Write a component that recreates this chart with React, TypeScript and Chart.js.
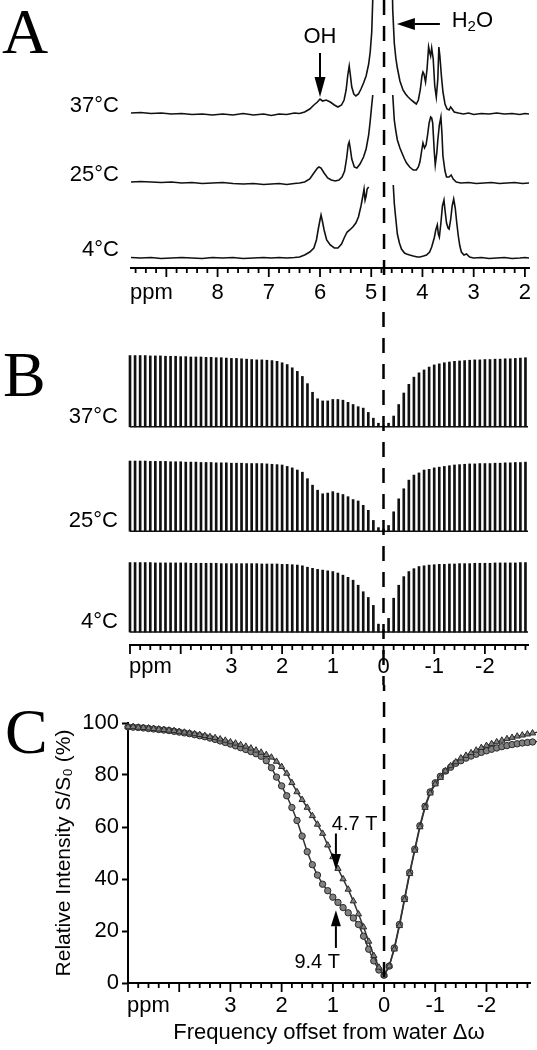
import React, { useEffect, useRef } from 'react';
import { Chart, registerables } from 'chart.js';

Chart.register(...registerables);

const SANS = '"Liberation Sans", Arial, Helvetica, sans-serif';
const SERIF = '"Liberation Serif", "Times New Roman", serif';
Chart.defaults.font.family = SANS;
Chart.defaults.color = '#000';

// ---------------- Panel A : 1H spectra (ppm, intensity) ----------------
const tempLabels = ['37°C', '25°C', '4°C'];
const specOffsets = [144, 75, 0];
const xTickLabelsA = [8, 7, 6, 5, 4, 3, 2];

const spec37: [number, number | null][] = [
  [9.69, 1], [9.5, 1.5], [9.3, 0.5], [9.1, 1], [8.9, 0], [8.7, 0.5], [8.5, -0.5], [8.3, 0], [8.1, -1], [7.9, 0],
  [7.7, -1], [7.5, 0.5], [7.3, -1], [7.1, 0], [6.95, -1.5], [6.8, 0], [6.65, -0.5], [6.5, 1], [6.4, 0.5], [6.3, 2],
  [6.2, 5], [6.12, 9], [6.05, 12], [6.0, 15], [5.95, 13], [5.88, 14], [5.8, 12], [5.72, 9], [5.65, 7], [5.58, 9],
  [5.53, 14], [5.49, 24], [5.46, 38], [5.43, 48], [5.41, 40], [5.38, 27], [5.34, 20], [5.3, 18], [5.25, 20], [5.2, 25],
  [5.15, 31], [5.1, 38], [5.05, 50], [5.02, 62], [4.99, 82], [4.97, 115], [4.95, 160], [4.75, null],
  [4.6, 160], [4.58, 104], [4.55, 71], [4.52, 56], [4.49, 46], [4.44, 33], [4.38, 24], [4.33, 20], [4.28, 17], [4.22, 14],
  [4.17, 12], [4.12, 10], [4.08, 14], [4.04, 25], [4.01, 38], [3.99, 42], [3.97, 40], [3.94, 32], [3.91, 45], [3.88, 67],
  [3.86, 62], [3.84, 58], [3.82, 66], [3.79, 55], [3.76, 28], [3.73, 17], [3.7, 35], [3.68, 67], [3.66, 58], [3.63, 38],
  [3.6, 22], [3.56, 10], [3.52, 5], [3.48, 4], [3.45, 7], [3.42, 5], [3.38, 2], [3.3, 1], [3.2, 0], [3.1, 1],
  [3.0, -0.5], [2.85, 0.5], [2.7, 0], [2.55, 1], [2.4, 0], [2.25, 0.5], [2.1, -0.5], [2.0, 0.5], [1.92, 0],
];

const spec25: [number, number | null][] = [
  [9.69, 1], [9.5, 1.5], [9.3, 1], [9.1, 0.5], [8.9, 1], [8.7, 0], [8.5, 0.5], [8.3, -0.5], [8.1, 0], [7.9, 0.5],
  [7.7, -0.5], [7.5, -1], [7.3, -0.5], [7.1, -1.5], [6.95, -1], [6.8, -0.5], [6.65, -1.5], [6.5, -0.5], [6.4, 0], [6.3, 1],
  [6.2, 4], [6.12, 10], [6.05, 15], [6.02, 16], [5.98, 15], [5.92, 10], [5.85, 5], [5.78, 3], [5.7, 2], [5.63, 3],
  [5.57, 6], [5.52, 12], [5.48, 25], [5.45, 38], [5.43, 41], [5.41, 35], [5.38, 24], [5.33, 16], [5.28, 15], [5.22, 19],
  [5.15, 26], [5.1, 34], [5.05, 48], [5.02, 62], [4.99, 78], [4.97, 88], [4.75, null],
  [4.58, 88], [4.55, 63], [4.52, 52], [4.49, 43], [4.44, 35], [4.4, 30], [4.35, 24], [4.31, 20], [4.25, 16], [4.18, 13],
  [4.12, 13], [4.08, 16], [4.05, 21], [4.01, 34], [3.99, 40], [3.96, 35], [3.93, 38], [3.9, 48], [3.87, 60], [3.84, 66],
  [3.82, 65], [3.8, 60], [3.77, 32], [3.75, 18], [3.72, 30], [3.7, 43], [3.67, 58], [3.64, 66], [3.62, 50], [3.6, 27],
  [3.56, 12], [3.53, 6], [3.48, 6], [3.44, 8], [3.4, 4], [3.34, 1], [3.25, 0], [3.1, 0.5], [2.95, -0.5], [2.8, 0],
  [2.65, 0.5], [2.5, -0.5], [2.35, 0], [2.2, 0.5], [2.05, -0.5], [1.92, 0],
];

const spec4: [number, number | null][] = [
  [9.69, 0.5], [9.5, 0], [9.3, 0.5], [9.1, -0.5], [8.9, 0], [8.7, 0.5], [8.5, 0], [8.3, -0.5], [8.1, 0.5], [7.9, 0],
  [7.7, 0.5], [7.5, -0.5], [7.3, 0], [7.1, 0.5], [6.95, 0], [6.8, 0.5], [6.65, 0], [6.5, 0.5], [6.4, 1], [6.3, 3],
  [6.2, 6], [6.12, 10], [6.07, 18], [6.03, 30], [6.0, 38], [5.98, 43], [5.95, 36], [5.92, 28], [5.87, 18], [5.8, 13],
  [5.72, 10], [5.65, 10], [5.58, 14], [5.52, 21], [5.47, 26], [5.42, 28], [5.36, 31], [5.3, 35], [5.25, 41], [5.2, 52],
  [5.16, 63], [5.14, 69], [5.12, 58], [5.1, 62], [5.08, 69], [5.05, 71], [4.75, null],
  [4.57, 73], [4.55, 55], [4.53, 44], [4.49, 24], [4.45, 15], [4.41, 9], [4.35, 5], [4.31, 4], [4.25, 3], [4.18, 2],
  [4.1, 1], [4.05, 1], [3.98, 2], [3.92, 3], [3.86, 6], [3.82, 11], [3.77, 20], [3.74, 28], [3.71, 33], [3.69, 24],
  [3.67, 21], [3.64, 35], [3.61, 52], [3.58, 58], [3.56, 48], [3.53, 35], [3.5, 30], [3.48, 29], [3.45, 38], [3.42, 52],
  [3.39, 59], [3.36, 50], [3.33, 35], [3.3, 22], [3.27, 12], [3.24, 6], [3.19, 3], [3.14, 4], [3.08, 1], [3.0, 0],
  [2.85, 0.5], [2.7, -0.5], [2.55, 0], [2.4, 0.5], [2.25, -0.5], [2.1, 0], [2.0, 0.5], [1.92, 0],
];

// ---------------- Panels B & C : Z-spectra ----------------
const zOffsets = [
  5.0, 4.9, 4.8, 4.7, 4.6, 4.5, 4.4, 4.3, 4.2, 4.1, 4.0, 3.9, 3.8, 3.7, 3.6, 3.5, 3.4, 3.3, 3.2, 3.1,
  3.0, 2.9, 2.8, 2.7, 2.6, 2.5, 2.4, 2.3, 2.2, 2.1, 2.0, 1.9, 1.8, 1.7, 1.6, 1.5, 1.4, 1.3, 1.2, 1.1,
  1.0, 0.9, 0.8, 0.7, 0.6, 0.5, 0.4, 0.3, 0.2, 0.1, 0.0, -0.1, -0.2, -0.3, -0.4, -0.5, -0.6, -0.7, -0.8, -0.9,
  -1.0, -1.1, -1.2, -1.3, -1.4, -1.5, -1.6, -1.7, -1.8, -1.9, -2.0, -2.1, -2.2, -2.3, -2.4, -2.5, -2.6, -2.7, -2.8,
  -2.9, -3.0,
];
const xTickLabelsB = [3, 2, 1, 0, -1, -2];
const rowOffsetsB = [285, 140, 0];

const zB37 = [
  99, 99, 99, 99, 98.5, 98.5, 98.5, 98, 98, 98, 97.5, 97.5, 97, 97, 97, 96.5, 96.5, 96, 96, 95.5,
  95, 95, 94.5, 94, 93.5, 93, 93, 92.5, 92, 91, 89, 86.5, 82, 77, 70, 60, 48, 39, 36, 36,
  38, 38, 37, 34, 31, 28, 26, 20, 12, 5, 1.5, 5, 15, 31, 47, 59, 69, 75, 79, 83,
  86, 87.5, 89, 90, 91, 91.5, 92, 92.5, 93, 93, 93.5, 93.5, 94, 94, 94.5, 94.5, 95, 95.5, 96,
];
const zB25 = [
  97.5, 97.5, 97.5, 97.5, 97, 97, 97, 97, 96.5, 96.5, 96.5, 96, 96, 96, 95.5, 95.5, 95.5, 95, 95, 95,
  94.5, 94.5, 94.5, 94, 94, 94, 94, 93.5, 93, 92.5, 92, 90, 88, 85, 82, 73, 64, 57, 52, 53,
  55, 53, 51, 48, 44, 42, 36, 29, 15, 5, 3, 8, 27, 45, 59, 71, 78, 81, 85, 86,
  88, 89, 90, 91, 92, 92.5, 93, 93.5, 93.5, 94, 94, 94, 94.5, 94.5, 95, 95, 95.5, 95.5, 96,
];
const zB4 = [
  96.5, 96.5, 96.5, 96.5, 96.5, 96, 96, 96, 96, 96, 96, 96, 95.5, 95.5, 95.5, 95.5, 95.5, 95.5, 95, 95,
  95, 95, 95, 95, 95, 95, 94.5, 94.5, 94.5, 94.5, 94, 94, 93.5, 93, 92, 90, 88.5, 87, 86, 85,
  84, 82, 79, 76, 72, 65, 56, 48, 37, 11, 3, 19, 47, 65, 77, 84, 88, 91, 92, 93,
  93.5, 94, 94, 94.5, 94.5, 95, 95, 95, 95.5, 95.5, 95.5, 95.5, 96, 96, 96, 96, 96, 96.5, 96.5,
];

const fieldLabels = ['4.7 T', '9.4 T'];
const zC47 = [
  98.5, 98.5, 98.3, 98.2, 98.0, 97.8, 97.6, 97.4, 97.2, 97.0,
  96.7, 96.4, 96.1, 95.8, 95.5, 95.1, 94.7, 94.3, 93.8, 93.3,
  92.7, 92.2, 91.6, 91.0, 90.3, 89.5, 88.7, 87.8, 86.8, 85.2,
  83.2, 80.6, 77.0, 73.5, 70.5, 67.5, 64.3, 61.0, 57.5, 53.0,
  48.5, 44.0, 40.0, 36.0, 31.5, 26.5, 21.5, 16.0, 10.5, 6.0,
  3.0,
  6.5, 13, 22, 32, 42, 51, 60, 67.5, 73, 76.5,
  79, 81.5, 83.5, 85, 86.5, 87.5, 88.5, 89.5, 90.5, 91.3,
  92, 92.7, 93.3, 93.9, 94.4, 94.9, 95.3, 95.7, 96.1, 96.5,
];
const zC94 = [
  98.5, 98.4, 98.3, 98.1, 97.9, 97.7, 97.5, 97.3, 97.1, 96.8,
  96.5, 96.2, 95.9, 95.5, 95.1, 94.7, 94.2, 93.7, 93.1, 92.5,
  91.9, 91.2, 90.5, 89.8, 89.0, 88.2, 87.2, 85.5, 82.8, 79.2,
  75.8, 72.0, 67.5, 62.5, 56.5, 50.5, 45.5, 41.5, 38.0, 35.5,
  33.0, 31.0, 29.0, 27.0, 25.0, 22.5, 18.0, 13.0, 8.5, 5.0,
  3.0,
  6.5, 13.5, 22.5, 32.5, 42.5, 51.5, 60.5, 68.0, 73.5, 77.0,
  79.5, 81.5, 83.0, 84.5, 85.5, 86.5, 87.3, 88.0, 88.7, 89.3,
  89.9, 90.4, 90.9, 91.3, 91.7, 92.0, 92.3, 92.5, 92.7, 92.9,
];
const yTicksC = [0, 20, 40, 60, 80, 100];

// annotation anchors (data units)
const annotA = { ohPpm: 6.0, ohText: 221, ohTail: 205, ohTip: 161, h2oY: 234, h2oTail: 3.66, h2oTip: 4.5, h2oTextPpm: 3.43 };
const annotC = { arrowPpm: 0.94, t47Text: [1.02, 61], t47Tail: 57.5, t47Tip: 43.5, t94Text: [0.86, 8], t94Tail: 13.5, t94Tip: 28 };

// ---------------- helpers ----------------
function arrow(ctx: CanvasRenderingContext2D, x1: number, y1: number, x2: number, y2: number, headLen: number, headW: number) {
  const a = Math.atan2(y2 - y1, x2 - x1);
  const bx = x2 - headLen * Math.cos(a);
  const by = y2 - headLen * Math.sin(a);
  ctx.beginPath();
  ctx.moveTo(x1, y1);
  ctx.lineTo(bx, by);
  ctx.stroke();
  ctx.beginPath();
  ctx.moveTo(x2, y2);
  ctx.lineTo(bx + (headW / 2) * Math.sin(a), by - (headW / 2) * Math.cos(a));
  ctx.lineTo(bx - (headW / 2) * Math.sin(a), by + (headW / 2) * Math.cos(a));
  ctx.closePath();
  ctx.fill();
}

function xScale(min: number, max: number, height: number, extra: any = {}) {
  return {
    type: 'linear',
    reverse: true,
    min,
    max,
    offset: false,
    afterFit: (s: any) => { s.height = height; },
    grid: { display: false, drawTicks: false },
    border: { display: true, color: '#000', width: 2 },
    ticks: { display: false, stepSize: 1, includeBounds: false },
    ...extra,
  };
}

function panelPlugin(p: any) {
  return {
    id: 'panel' + p.letter,
    beforeDatasetsDraw(chart: any) {
      if (!p.baselines) return;
      const { ctx, chartArea: ca } = chart;
      const ys = chart.scales.y;
      ctx.save();
      ctx.strokeStyle = '#111';
      ctx.lineWidth = 1.5;
      p.baselines.forEach((b: number) => {
        const y = ys.getPixelForValue(b);
        ctx.beginPath();
        ctx.moveTo(ca.left, y);
        ctx.lineTo(ca.right, y);
        ctx.stroke();
      });
      ctx.restore();
    },
    afterDraw(chart: any) {
      const { ctx, chartArea: ca } = chart;
      const xs = chart.scales.x;
      const ys = chart.scales.y;
      ctx.save();
      ctx.fillStyle = '#000';
      ctx.strokeStyle = '#000';
      // minor / major ticks of the ppm axis
      ctx.lineWidth = 1.8;
      const kMin = Math.ceil(Math.min(xs.min, xs.max) * 5 - 1e-6);
      const kMax = Math.floor(Math.max(xs.min, xs.max) * 5 + 1e-6);
      for (let k = kMin; k <= kMax; k++) {
        const px = xs.getPixelForValue(k / 5);
        const len = k % 5 === 0 ? 9 : 5;
        ctx.beginPath();
        ctx.moveTo(px, ca.bottom);
        ctx.lineTo(px, ca.bottom + len);
        ctx.stroke();
      }
      // tick labels
      ctx.font = `22px ${SANS}`;
      ctx.textBaseline = 'middle';
      ctx.textAlign = 'center';
      const ly = ca.bottom + p.labelDy;
      p.tickLabels.forEach((v: number) => {
        ctx.fillText(String(v), xs.getPixelForValue(v), ly);
      });
      ctx.textAlign = 'left';
      ctx.fillText('ppm', ca.left - 1, ly);
      // row labels
      if (p.rows) {
        ctx.textAlign = 'right';
        p.rows.forEach((r: any) => {
          ctx.fillText(r.text, ca.left - 12, ys.getPixelForValue(r.value) + p.rowDy);
        });
      }
      // panel letter
      ctx.font = `64px ${SERIF}`;
      ctx.textAlign = 'left';
      ctx.textBaseline = 'alphabetic';
      ctx.fillText(p.letter, p.letterX, p.letterBase);
      // extra annotations
      if (p.extra) p.extra(chart, ctx, xs, ys, ca);
      // dashed water line
      const wx = xs.getPixelForValue(p.waterPpm);
      ctx.setLineDash([15, 11]);
      ctx.lineDashOffset = p.canvasTop % 26;
      ctx.lineWidth = 2.5;
      ctx.strokeStyle = '#000';
      ctx.beginPath();
      ctx.moveTo(wx, 0);
      ctx.lineTo(wx, p.dashToAxis ? ca.bottom : chart.height);
      ctx.stroke();
      ctx.setLineDash([]);
      ctx.restore();
    },
  };
}

// ---------------- chart configs ----------------
function buildA() {
  const specs = [spec37, spec25, spec4];
  const datasets = specs.map((s, i) => ({
    type: 'line',
    label: tempLabels[i],
    data: s.map(([x, v]) => ({ x, y: v === null ? null : v + specOffsets[i] })),
    borderColor: '#111',
    borderWidth: 1.6,
    pointRadius: 0,
    tension: 0,
    spanGaps: false,
  }));
  return {
    type: 'line',
    data: { datasets },
    options: {
      animation: false,
      responsive: false,
      events: [],
      layout: { padding: { left: 131, right: 8, top: 0, bottom: 0 } },
      plugins: { legend: { display: false }, tooltip: { enabled: false } },
      scales: {
        x: xScale(1.92, 9.69, 42),
        y: { display: false, min: -10, max: 258 },
      },
    },
    plugins: [
      panelPlugin({
        letter: 'A', letterX: 2, letterBase: 53, canvasTop: 0, waterPpm: 4.75, dashToAxis: false,
        tickLabels: xTickLabelsA, labelDy: 25,
        rows: tempLabels.map((t, i) => ({ text: t, value: specOffsets[i] })), rowDy: -8,
        extra: (chart: any, ctx: CanvasRenderingContext2D, xs: any, ys: any) => {
          ctx.lineWidth = 2;
          ctx.font = `22px ${SANS}`;
          ctx.textAlign = 'center';
          ctx.textBaseline = 'middle';
          const ox = xs.getPixelForValue(annotA.ohPpm);
          ctx.fillText('OH', ox, ys.getPixelForValue(annotA.ohText));
          arrow(ctx, ox, ys.getPixelForValue(annotA.ohTail), ox, ys.getPixelForValue(annotA.ohTip), 20, 11);
          const hy = ys.getPixelForValue(annotA.h2oY);
          arrow(ctx, xs.getPixelForValue(annotA.h2oTail), hy, xs.getPixelForValue(annotA.h2oTip), hy, 18, 12);
          let tx = xs.getPixelForValue(annotA.h2oTextPpm);
          const ty = hy - 3;
          ctx.textAlign = 'left';
          ctx.fillText('H', tx, ty);
          tx += ctx.measureText('H').width;
          ctx.font = `15px ${SANS}`;
          ctx.fillText('2', tx, ty + 6);
          tx += ctx.measureText('2').width;
          ctx.font = `22px ${SANS}`;
          ctx.fillText('O', tx, ty);
        },
      }),
    ],
  };
}

function buildB() {
  const rows = [zB37, zB25, zB4];
  const datasets = rows.map((vals, i) => ({
    type: 'bar',
    label: tempLabels[i],
    data: vals.map((v, j) => ({ x: zOffsets[j], y: [rowOffsetsB[i], rowOffsetsB[i] + v] })),
    backgroundColor: '#111',
    borderWidth: 0,
    barThickness: 2,
    grouped: false,
    clip: false,
  }));
  return {
    type: 'bar',
    data: { datasets },
    options: {
      animation: false,
      responsive: false,
      events: [],
      layout: { padding: { left: 130, right: 9, top: 30, bottom: 0 } },
      plugins: { legend: { display: false }, tooltip: { enabled: false } },
      scales: {
        x: xScale(-2.85, 5.0, 40),
        y: { display: false, min: -18, max: 405.6 },
      },
    },
    plugins: [
      panelPlugin({
        letter: 'B', letterX: 3, letterBase: 86, canvasTop: 310, waterPpm: 0, dashToAxis: false,
        tickLabels: xTickLabelsB, labelDy: 22,
        rows: tempLabels.map((t, i) => ({ text: t, value: rowOffsetsB[i] })), rowDy: -10,
        baselines: rowOffsetsB,
      }),
    ],
  };
}

function buildC() {
  const mk = (vals: number[], i: number, style: string, r: number) => ({
    type: 'line',
    label: fieldLabels[i],
    data: vals.map((v, j) => ({ x: zOffsets[j], y: v })),
    borderColor: '#333',
    borderWidth: 1.5,
    pointStyle: style,
    pointRadius: r,
    pointBackgroundColor: '#808080',
    pointBorderColor: '#2a2a2a',
    pointBorderWidth: 1,
    tension: 0,
    clip: false,
  });
  return {
    type: 'line',
    data: { datasets: [mk(zC47, 0, 'triangle', 3.6), mk(zC94, 1, 'circle', 3.2)] },
    options: {
      animation: false,
      responsive: false,
      events: [],
      layout: { padding: { left: 0, right: 7, top: 38, bottom: 0 } },
      plugins: { legend: { display: false }, tooltip: { enabled: false } },
      scales: {
        x: xScale(-2.85, 5.0, 67, {
          title: { display: true, text: 'Frequency offset from water Δω', font: { size: 22, family: SANS }, color: '#000', padding: { top: 0, bottom: 4 } },
        }),
        y: {
          type: 'linear',
          min: 0,
          max: 100,
          afterFit: (s: any) => { s.width = 128; },
          grid: { display: true, drawOnChartArea: false, drawTicks: true, tickLength: 6, tickWidth: 2, tickColor: '#000', color: '#000' },
          border: { display: true, color: '#000', width: 2 },
          ticks: { stepSize: 20, padding: 3, font: { size: 22, family: SANS }, color: '#000', callback: (v: any) => (yTicksC.indexOf(Number(v)) >= 0 ? String(v) : '') },
          title: { display: true, text: 'Relative Intensity S/S₀ (%)', font: { size: 21, family: SANS }, color: '#000', padding: { top: 52, bottom: 0 } },
        },
      },
    },
    plugins: [
      panelPlugin({
        letter: 'C', letterX: 5, letterBase: 68, canvasTop: 685, waterPpm: 0, dashToAxis: true,
        tickLabels: xTickLabelsB, labelDy: 23,
        extra: (chart: any, ctx: CanvasRenderingContext2D, xs: any, ys: any) => {
          ctx.lineWidth = 2;
          ctx.font = `20px ${SANS}`;
          ctx.textBaseline = 'middle';
          const ax = xs.getPixelForValue(annotC.arrowPpm);
          ctx.textAlign = 'left';
          ctx.fillText(fieldLabels[0], xs.getPixelForValue(annotC.t47Text[0]), ys.getPixelForValue(annotC.t47Text[1]));
          arrow(ctx, ax, ys.getPixelForValue(annotC.t47Tail), ax, ys.getPixelForValue(annotC.t47Tip), 16, 10);
          ctx.textAlign = 'right';
          ctx.fillText(fieldLabels[1], xs.getPixelForValue(annotC.t94Text[0]), ys.getPixelForValue(annotC.t94Text[1]));
          arrow(ctx, ax, ys.getPixelForValue(annotC.t94Tail), ax, ys.getPixelForValue(annotC.t94Tip), 16, 10);
        },
      }),
    ],
  };
}

function ChartCanvas({ top, height, build }: { top: number; height: number; build: () => any }) {
  const ref = useRef<HTMLCanvasElement | null>(null);
  useEffect(() => {
    const chart = new Chart(ref.current as HTMLCanvasElement, build());
    return () => chart.destroy();
  }, []);
  return (
    <canvas
      ref={ref}
      width={537}
      height={height}
      style={{ position: 'absolute', left: 0, top, width: 537, height, display: 'block' }}
    />
  );
}

export default function App() {
  useEffect(() => {
    document.body.style.margin = '0';
    document.documentElement.style.overflow = 'hidden';
  }, []);
  return (
    <div style={{ position: 'relative', width: 537, height: 1050, background: '#fff', overflow: 'hidden' }}>
      <ChartCanvas top={0} height={310} build={buildA} />
      <ChartCanvas top={310} height={375} build={buildB} />
      <ChartCanvas top={685} height={365} build={buildC} />
    </div>
  );
}
